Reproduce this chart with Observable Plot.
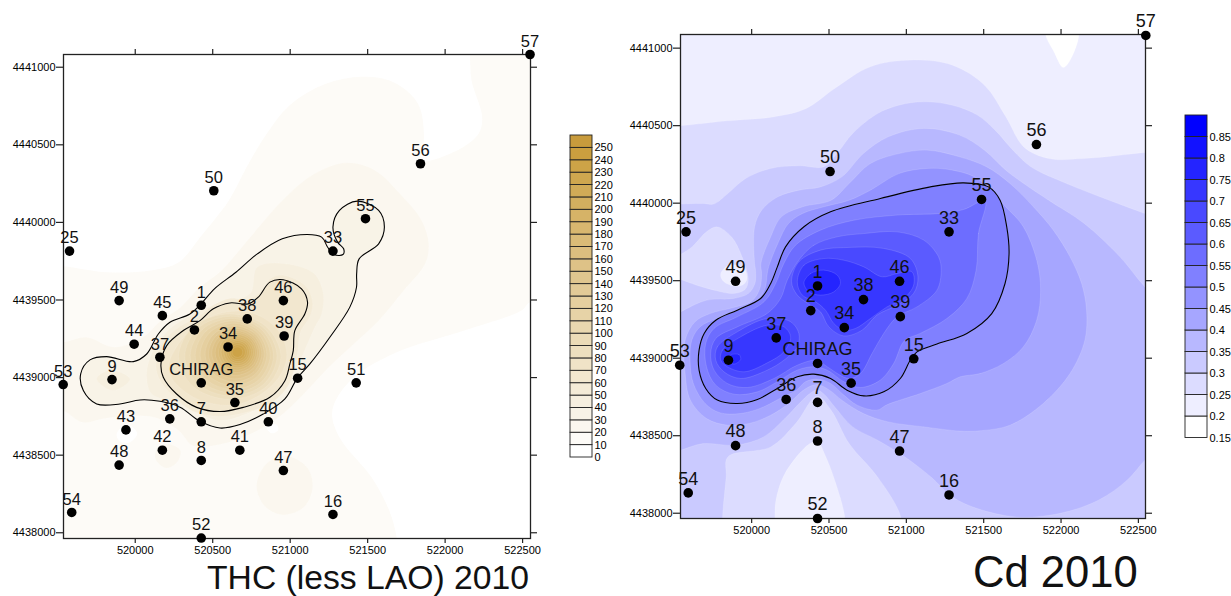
<!DOCTYPE html>
<html><head><meta charset="utf-8">
<script src="https://cdn.jsdelivr.net/npm/d3@7"></script>
<script src="https://cdn.jsdelivr.net/npm/@observablehq/plot@0.6"></script>
<style>
html,body{margin:0;padding:0;background:#fff}
#page{position:relative;width:1231px;height:596px;overflow:hidden;font-family:"Liberation Sans",Arial,sans-serif}
#page>div{position:absolute}
#page svg{display:block;overflow:visible}
.ttl{line-height:1;color:#111;white-space:nowrap}
</style></head><body><div id="page"></div>
<script>
// Stations (UTM metres)
const stationNames=["57","56","50","55","33","25","49","46","1","45","38","2","39","44","34","37","15","9","CHIRAG","51","53","35","36","7","40","43","42","41","8","48","47","54","16","52"];
const stationE=[522548,521841,520507,521486,521276,519576,519896,520956,520426,520175,520723,520382,520961,519993,520599,520159,521048,519850,520426,521426,519535,520643,520223,520426,520859,519940,520175,520675,520426,519896,520956,519590,521276,520426];
const stationN=[4441082,4440378,4440204,4440024,4439815,4439815,4439496,4439496,4439466,4439399,4439378,4439307,4439268,4439215,4439197,4439131,4438996,4438987,4438966,4438966,4438955,4438839,4438734,4438715,4438715,4438663,4438532,4438532,4438466,4438436,4438401,4438131,4438118,4437966];
const cdStationNames=["57","56","50","55","33","25","49","46","1","38","2","39","34","37","15","9","CHIRAG","53","35","36","7","48","8","47","54","16","52"];
const xTicks=[520000,520500,521000,521500,522000,522500];
const yTicks=[4438000,4438500,4439000,4439500,4440000,4440500,4441000];

// Contour outlines: [easting-520000, northing-4439000]
const cd015=[[1897,2116],[1954,1976],[2012,1875],[2046,1901],[2116,2116],[2000,2300]];
const cd025=[[-569,1492],[-460,1499],[-154,1531],[146,1557],[353,1611],[537,1740],[768,1880],[1044,1923],[1298,1890],[1505,1761],[1643,1557],[1759,1363],[1920,1288],[2150,1288],[2542,1327],[2703,1342],[2800,0],[2800,-1200],[602,-1174],[602,-1024],[537,-787],[480,-637],[427,-540],[376,-551],[215,-744],[157,-916],[150,-1034],[150,-1174],[-700,-1200],[-700,1400]];
const cd030=[[-615,977],[-460,994],[-315,998],[-246,994],[-154,1062],[-39,1159],[123,1224],[307,1241],[468,1235],[560,1331],[653,1450],[814,1578],[952,1632],[1113,1654],[1298,1632],[1459,1568],[1574,1471],[1689,1342],[1805,1235],[2035,1127],[2311,1019],[2542,933],[2703,869],[2800,0],[2800,-1200],[964,-1174],[964,-1024],[814,-766],[630,-551],[514,-336],[422,-245],[284,-422],[123,-572],[-154,-637],[-165,-766],[-188,-1024],[-188,-1174],[-700,-1200],[-700,990]];
const cd025patch=[[-615,590],[-460,669],[-384,719],[-292,815],[-223,847],[-131,783],[-62,654],[-22,504],[-43,443],[-118,417],[-226,435],[-355,471],[-458,508],[-570,547]];
const cd020patch=[[-200,546],[-146,600],[-49,579],[-32,503],[-71,467],[-136,471],[-189,503]];
const cd035=[[-548,245],[-458,299],[-293,374],[-118,385],[-22,417],[21,482],[25,568],[19,611],[19,847],[65,955],[169,1041],[307,1084],[445,1105],[583,1170],[722,1320],[883,1428],[1113,1482],[1344,1439],[1505,1342],[1643,1213],[1759,1127],[1920,1019],[2150,869],[2381,654],[2542,460],[2703,310],[2800,-300],[2657,-551],[2542,-658],[2427,-787],[2242,-916],[1989,-1002],[1712,-1024],[1459,-970],[1298,-895],[1159,-766],[975,-626],[814,-529],[653,-443],[537,-314],[468,-232],[422,-205],[376,-228],[307,-293],[215,-389],[77,-508],[-103,-561],[-315,-551],[-460,-594],[-615,-637],[-700,-300]];
const cd040=[[1348,-470],[1113,-443],[883,-411],[722,-357],[583,-271],[503,-206],[422,-170],[341,-202],[238,-293],[123,-368],[-16,-421],[-154,-432],[-292,-389],[-396,-271],[-430,-99],[-430,116],[-366,235],[-269,288],[-118,327],[0,368],[53,450],[64,546],[60,611],[123,783],[192,912],[330,977],[514,1019],[630,1127],[768,1256],[952,1320],[1136,1342],[1344,1299],[1520,1234],[1670,1127],[1821,977],[1950,826],[2058,654],[2133,482],[2165,310],[2154,116],[2058,-99],[1885,-292],[1670,-432],[1477,-468]];
const cd045=[[1348,-120],[1477,-99],[1628,-34],[1757,74],[1843,246],[1868,439],[1843,632],[1757,847],[1643,976],[1459,1159],[1298,1213],[1136,1224],[952,1191],[768,1084],[630,1019],[468,977],[330,934],[238,869],[169,740],[110,590],[101,546],[86,450],[32,364],[-75,310],[-226,256],[-333,203],[-387,116],[-398,-23],[-377,-163],[-301,-292],[-205,-352],[-75,-357],[54,-324],[183,-260],[290,-206],[348,-152],[428,-135],[510,-163],[596,-238],[682,-303],[810,-335],[875,-300],[1090,-228],[1262,-163]];
const cd050=[[1370,1131],[1531,1105],[1606,1019],[1649,847],[1664,675],[1638,482],[1552,288],[1391,160],[1198,91],[1069,41],[1026,-12],[961,-131],[854,-217],[725,-243],[617,-206],[510,-131],[402,-103],[295,-120],[166,-195],[37,-266],[-93,-292],[-222,-270],[-297,-195],[-340,-77],[-340,52],[-307,160],[-232,245],[-93,310],[58,385],[123,482],[166,589],[219,718],[338,848],[510,944],[832,1030],[1155,1105]];
const cd055=[[1509,1015],[1466,804],[1451,568],[1391,385],[1262,256],[1090,160],[987,112],[918,-34],[832,-141],[703,-189],[596,-152],[488,-77],[402,-55],[295,-77],[166,-152],[37,-217],[-114,-232],[-232,-174],[-292,-55],[-297,95],[-243,192],[-93,267],[80,364],[155,482],[208,611],[284,729],[445,826],[660,890],[940,923],[1219,934],[1370,959]];
const cd060=[[305,633],[402,729],[553,783],[725,804],[940,815],[1112,762],[1208,654],[1225,568],[1198,439],[1069,331],[940,267],[854,160],[778,30],[703,-99],[628,-131],[488,-55],[424,-13],[295,-45],[144,-131],[-28,-189],[-157,-163],[-243,-77],[-265,30],[-232,127],[-93,202],[101,289],[187,385],[230,503]];
const cd065=[[258,493],[305,622],[445,697],[617,714],[854,708],[1026,643],[1075,525],[1047,418],[940,342],[810,278],[714,181],[596,144],[499,202],[445,299],[381,342],[295,407]];
const cd065b=[[-232,-13],[-222,73],[-93,170],[101,256],[252,235],[305,160],[295,73],[208,-13],[101,-77],[-71,-131],[-179,-88]];
const cd070=[[295,493],[338,600],[467,643],[596,632],[725,589],[843,525],[940,546],[1036,557],[1047,471],[983,385],[875,331],[768,256],[671,192],[596,181],[531,224],[477,310],[413,364],[327,407]];
const cd070b=[[-200,-13],[-189,52],[-71,138],[101,213],[208,203],[252,138],[208,41],[101,-30],[-50,-88],[-157,-55]];
const cd075=[[338,486],[381,546],[467,568],[553,536],[574,482],[531,428],[445,407],[370,428]];
const cd075b=[[-136,20],[-82,24],[-71,-8],[-114,-38],[-146,-17]];
const cdBands=[[0.15,cd015],[0.25,cd025],[0.3,cd030],[0.25,cd025patch],[0.2,cd020patch],[0.35,cd035],[0.4,cd040],[0.45,cd045],[0.5,cd050],[0.55,cd055],[0.6,cd060],[0.65,cd065],[0.65,cd065b],[0.7,cd070],[0.7,cd070b],[0.75,cd075],[0.75,cd075b]];
const cdColors=["#ffffff","#eeeeff","#dcdcff","#cacaff","#b8b8ff","#a6a6ff","#9393ff","#8080ff","#6d6dff","#5b5bff","#4949ff","#3737ff","#2424ff","#1212ff","#0000ff"];
const cdBreaks=[0.2,0.25,0.3,0.35,0.4,0.45,0.5,0.55,0.6,0.65,0.7,0.75,0.8,0.85];
const cdLegendTicks=[0.15,0.2,0.25,0.3,0.35,0.4,0.45,0.5,0.55,0.6,0.65,0.7,0.75,0.8,0.85];

const thc10=[[-595,722],[-463,718],[-180,679],[97,690],[281,744],[419,905],[604,1141],[719,1357],[834,1550],[995,1754],[1203,1883],[1433,1937],[1663,1905],[1825,1765],[1864,1550],[1848,1400],[2055,1453],[2216,1572],[2239,1679],[2170,1916],[2159,2109],[2147,2238],[2800,2238],[2800,500],[2550,486],[2493,432],[2124,303],[1663,152],[1387,-20],[1272,-213],[1318,-385],[1525,-643],[1640,-858],[1687,-1030],[1698,-1200],[-700,-1200],[-700,722]];
const thcHole43=[[-120,-364],[-56,-303],[13,-359],[-34,-417],[-98,-411]];
const thcHole40=[[847,-320],[912,-303],[923,-338],[880,-359]];
const thc20=[[-595,228],[-463,228],[-318,260],[-134,196],[51,260],[166,368],[281,443],[419,583],[557,690],[742,905],[972,1163],[1157,1313],[1364,1384],[1548,1335],[1709,1184],[1848,1012],[1894,862],[1871,733],[1733,561],[1571,367],[1433,238],[1249,66],[1087,-106],[926,-256],[742,-364],[558,-428],[373,-439],[281,-342],[120,-256],[-180,-260],[-341,-288],[-463,-213],[-595,-191]];
const thc20b=[[131,-525],[200,-583],[270,-546],[292,-471],[212,-428],[143,-450]];
const thc20c=[[783,-697],[845,-557],[972,-503],[1110,-579],[1145,-708],[1087,-836],[949,-884],[834,-826]];
const thcOuter=[[1433,1137],[1571,1077],[1608,970],[1571,862],[1445,765],[1429,668],[1428,582],[1385,454],[1256,260],[1127,88],[1047,-2],[966,-138],[826,-235],[676,-303],[547,-325],[418,-282],[289,-191],[160,-153],[31,-144],[-99,-170],[-249,-170],[-335,-84],[-352,24],[-292,114],[-185,135],[-12,103],[74,152],[149,281],[224,357],[353,410],[428,479],[511,572],[650,679],[788,797],[949,894],[1110,922],[1203,905],[1242,840],[1283,793],[1341,793],[1345,830],[1306,873],[1276,970],[1318,1077]];
const thc40=[[788,712],[972,733],[1157,668],[1214,540],[1203,410],[1159,324],[1041,66],[912,-127],[740,-224],[547,-277],[375,-213],[267,-159],[106,-106],[74,24],[116,174],[224,314],[375,410],[547,486],[740,540]];
const thc40b=[[-249,-9],[-163,49],[-34,-9],[-142,-84]];
const thc50=[[955,660],[1100,590],[1145,486],[1130,400],[1065,290],[1050,174],[1030,80],[995,-40],[890,-155],[710,-225],[547,-250],[385,-222],[245,-120],[150,2],[135,95],[175,225],[290,330],[410,395],[500,465],[610,510],[725,505],[800,545],[875,640]];
const thcInner=[[955,630],[1073,572],[1112,486],[1095,411],[1030,303],[1020,174],[998,88],[966,-20],[869,-127],[697,-192],[547,-219],[396,-192],[267,-106],[181,2],[166,88],[203,206],[310,303],[418,367],[504,443],[611,481],[729,475],[794,518],[869,615]];
const thc70=[[215,45],[312,260],[505,400],[742,420],[924,303],[978,131],[892,-41],[656,-174],[376,-127]];
// Rings round the peak: level, west, east, north, south limits
const ringLevels=[80,90,100,110,120,130,140,150,160,170,180,190,200,210,220,230];
const ringW=[280,320,355,387,419,451,473,494,516,537,554,572,587,600,613,625];
const ringE=[940,915,892,871,849,832,817,802,789,776,763,750,737,724,711,694];
const ringN=[410,395,380,365,350,333,318,303,290,278,263,250,238,226,212,198];
const ringS=[-140,-118,-98,-76,-52,-28,-8,14,32,48,63,76,90,103,116,130];
const thcRings=ringLevels.map((lv,i)=>{
  const me=(ringW[i]+ringE[i])/2,mn=(ringN[i]+ringS[i])/2,a=(ringE[i]-ringW[i])*0.354,b=(ringN[i]-ringS[i])*0.354;
  return [lv,[[ringW[i],mn],[me-a,mn+b],[me,ringN[i]],[me+a,mn+b],[ringE[i],mn],[me+a,mn-b],[me,ringS[i]],[me-a,mn-b]]];
});
const thcBands=[[10,thc10],[0,thcHole43],[0,thcHole40],[20,thc20],[20,thc20b],[20,thc20c],[30,thcOuter],[40,thc40],[40,thc40b],[50,thc50],[60,thcInner],[70,thc70],...thcRings];
const thcBreaks=d3.range(10,260,10);
const thcRamp=["#ffffff","#fdfbf7","#fbf7ef","#f8f3e7","#f6efdf","#f4ebd7","#f2e7cf","#f0e3c7","#eddfbf","#ebdbb7","#e9d7af","#e7d3a7","#e5cf9f","#e2ca97","#e0c68f","#dec287","#dcbe7f","#dabb77","#d8b76f","#d6b367","#d3af5f","#d1ab57","#cfa74f","#cda347","#cb9f3f","#c89b3c"];
const thcLegendTicks=[0,10,20,30,40,50,60,70,80,90,100,110,120,130,140,150,160,170,180,190,200,210,220,230,240,250];

const E0=520000,N0=4439000;
const toRows=bands=>bands.flatMap(([level,pts],i)=>pts.map(([e,n])=>({id:i,level,e:E0+e,n:N0+n})));
const fmt=d=>String(d);
const font={fontFamily:'"Liberation Sans",Arial,sans-serif',fontSize:"11px",background:"transparent",overflow:"visible"};
const stations=stationNames.map((id,i)=>({id,e:stationE[i],n:stationN[i]}));

function place(el,left,top){const d=document.createElement("div");d.style.left=left+"px";d.style.top=top+"px";d.appendChild(el);document.getElementById("page").appendChild(d);}

function map({bands,breaks,colors,bg,contours,pts,xDomain,yDomain,marginLeft,marginRight,marginTop,marginBottom,labelSize,labelDy,r,glow}){
  const axes=[
    Plot.axisX(xTicks,{anchor:"bottom",tickSize:5,tickPadding:3,tickFormat:fmt,label:null,stroke:"#222",strokeWidth:1.2,fill:"#000",fontSize:11}),
    Plot.axisX(xTicks,{anchor:"top",tickSize:6,tickFormat:()=>"",label:null,stroke:"#222",strokeWidth:1.2}),
    Plot.axisY(yTicks,{anchor:"left",tickSize:7,tickPadding:1,tickFormat:fmt,label:null,stroke:"#222",strokeWidth:1.2,fill:"#000",fontSize:11}),
    Plot.axisY(yTicks,{anchor:"right",tickSize:6,tickFormat:()=>"",label:null,stroke:"#222",strokeWidth:1.2})
  ];
  return Plot.plot({
    width:560,height:596,marginLeft,marginRight,marginTop,marginBottom,style:font,
    x:{domain:xDomain},y:{domain:yDomain},
    color:{type:"threshold",domain:breaks,range:colors},
    marks:[
      Plot.frame({fill:bg,stroke:"none"}),
      Plot.line(toRows(bands),{x:"e",y:"n",z:"id",fill:"level",stroke:"#fff",strokeOpacity:glow,strokeWidth:0.6,curve:"catmull-rom-closed",clip:true}),
      ...contours.map(c=>Plot.line(toRows([[0,c]]),{x:"e",y:"n",stroke:"#000",strokeWidth:1.1,curve:"catmull-rom-closed",clip:true})),
      ...axes,
      Plot.frame({stroke:"#222",strokeWidth:1.3}),
      Plot.dot(pts,{x:"e",y:"n",r,fill:"#000",stroke:"none"}),
      Plot.text(pts,{x:"e",y:"n",text:"id",dy:labelDy,fontSize:labelSize,fill:"#111"})
    ]
  });
}

function legend({ticks,step,breaks,colors,domain,height,marginTop,marginBottom,width,marginRight}){
  return Plot.plot({
    width,height,marginLeft:10,marginRight,marginTop,marginBottom,style:font,
    x:{domain:[0,1],axis:null},y:{domain},
    color:{type:"threshold",domain:breaks,range:colors},
    marks:[
      Plot.rect(ticks,{x1:()=>0,x2:()=>1,y1:d=>d,y2:d=>+(d+step).toFixed(2),fill:d=>d,stroke:"#222",strokeWidth:0.9}),
      Plot.axisY(ticks,{anchor:"right",tickSize:0,tickPadding:2,tickFormat:fmt,label:null,fill:"#000",fontSize:11})
    ]
  });
}

place(map({bands:thcBands,breaks:thcBreaks,colors:thcRamp,bg:"#ffffff",contours:[thcOuter,thcInner],pts:stations,
  xDomain:[519537,522551],yDomain:[4437963,4441082],marginLeft:63,marginRight:30,marginTop:54,marginBottom:58,labelSize:16.5,labelDy:-13,r:4.8,glow:0.15}),0,0);
place(map({bands:cdBands,breaks:cdBreaks,colors:cdColors,bg:cdColors[1],contours:[cd050],pts:stations.filter(s=>cdStationNames.includes(s.id)),
  xDomain:[519540,522546],yDomain:[4437966,4441088],marginLeft:60,marginRight:35,marginTop:34,marginBottom:78,labelSize:18,labelDy:-14,r:4.8,glow:0.22}),620,0);

place(legend({ticks:thcLegendTicks,step:10,breaks:thcBreaks,colors:thcRamp,domain:[0,260],width:60,height:345,marginTop:10,marginBottom:13,marginRight:28}),560,125);
place(legend({ticks:cdLegendTicks,step:0.05,breaks:cdBreaks,colors:cdColors,domain:[0.15,0.9],width:56,height:345,marginTop:10,marginBottom:12.5,marginRight:24}),1175,105);

function title(text,left,top,size){const d=document.createElement("div");d.className="ttl";d.textContent=text;d.style.left=left+"px";d.style.top=top+"px";d.style.fontSize=size+"px";document.getElementById("page").appendChild(d);}
title("THC (less LAO) 2010",207,560.5,33.7);
title("Cd 2010",973,551,43.6);
</script></body></html>
